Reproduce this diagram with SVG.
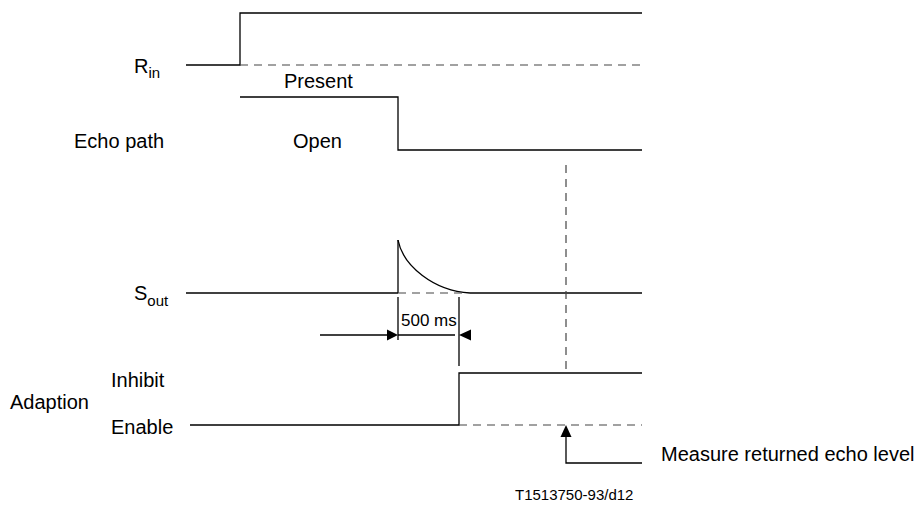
<svg xmlns="http://www.w3.org/2000/svg" width="924" height="510" viewBox="0 0 924 510">
<style>
  text { font-family: "Liberation Sans", Arial, sans-serif; font-size: 20px; fill: #000; }
  .sub { font-size: 15px; }
  .small { font-size: 17px; }
  .fig { font-size: 15px; }
  .ln { stroke: #000; stroke-width: 1.3; fill: none; }
  .dash { stroke: #444; stroke-width: 1.2; stroke-dasharray: 8 6; fill: none; }
  .arr { fill: #000; stroke: none; }
</style>
<rect width="924" height="510" fill="#fff"/>
<g id="labels">
  <text x="134" y="73">R<tspan class="sub" dy="5">in</tspan></text>
  <text x="74" y="148">Echo path</text>
  <text x="134" y="300">S<tspan class="sub" dy="6">out</tspan></text>
  <text x="111" y="387">Inhibit</text>
  <text x="10" y="409">Adaption</text>
  <text x="111" y="434">Enable</text>
</g>
<g id="rin">
  <polyline class="ln" points="186,65 240,65 240,13 642,13"/>
  <line class="dash" x1="240" y1="65" x2="642" y2="65"/>
</g>
<g id="echo-path">
  <polyline class="ln" points="240,97 398,97 398,150 642,150"/>
  <text x="284" y="88">Present</text>
  <text x="293" y="148">Open</text>
</g>
<g id="sout">
  <line class="ln" x1="186" y1="293" x2="398" y2="293"/>
  <line class="ln" x1="398" y1="293" x2="398" y2="240"/>
  <path class="ln" d="M398,240 C403,266 434,291 470,293"/>
  <line class="dash" x1="398" y1="293" x2="466" y2="293"/>
  <line class="ln" x1="470" y1="293" x2="642" y2="293"/>
</g>
<g id="adaption">
  <polyline class="ln" points="190,425 459,425 459,373 642,373"/>
  <line class="dash" x1="459" y1="425" x2="642" y2="425"/>
</g>
<g id="connectors">
  <line class="dash" x1="566" y1="165" x2="566" y2="373"/>
  <line class="ln" x1="398" y1="297" x2="398" y2="340"/>
  <line class="ln" x1="459" y1="297" x2="459" y2="366"/>
  <line class="ln" x1="320" y1="335" x2="388" y2="335"/>
  <polygon class="arr" points="398,335 387,329.5 387,340.5"/>
  <line class="ln" x1="398" y1="335" x2="455" y2="335"/>
  <polygon class="arr" points="459,335 471,329.5 471,340.5"/>
  <polyline class="ln" points="642,463 566,463 566,435"/>
  <polygon class="arr" points="566,425 560.5,437 571.5,437"/>
  <text class="small" x="401" y="326">500 ms</text>
  <text x="661" y="461">Measure returned echo level</text>
</g>
<text class="fig" x="515" y="500">T1513750-93/d12</text>
</svg>
